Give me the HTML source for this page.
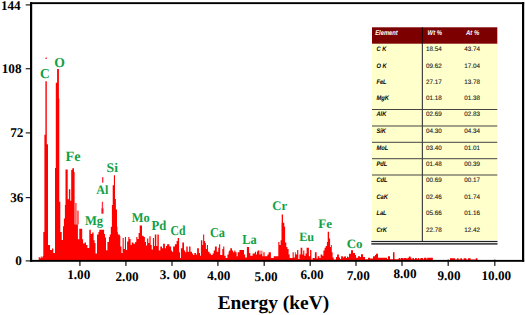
<!DOCTYPE html>
<html lang="en"><head><meta charset="utf-8"><title>EDS spectrum</title>
<style>
html,body{margin:0;padding:0;background:#fff;}
body{width:525px;height:315px;overflow:hidden;}
svg{display:block;}
text{text-rendering:geometricPrecision;}
.ax{font-family:"Liberation Serif",serif;font-weight:bold;font-size:13.2px;fill:#000;}
.el{font-family:"Liberation Serif",serif;font-weight:bold;fill:#12a043;}
.ttl{font-family:"Liberation Serif",serif;font-weight:bold;font-size:19.4px;fill:#000;}
.th{font-family:"Liberation Sans",sans-serif;font-weight:bold;font-style:italic;font-size:6.9px;fill:#fff;}
.tn{font-family:"Liberation Sans",sans-serif;font-weight:bold;font-style:italic;font-size:6.6px;fill:#000;}
.tv{font-family:"Liberation Sans",sans-serif;font-size:6.5px;fill:#1a1a1a;stroke:#1a1a1a;stroke-width:0.12px;}
</style></head><body>
<svg width="525" height="315" viewBox="0 0 525 315">
<rect width="525" height="315" fill="#fff"/>
<g fill="#222"><rect x="25.7" y="4.3" width="4.5" height="1.2"/><rect x="25.7" y="68.1" width="4.5" height="1.2"/><rect x="25.7" y="132.3" width="4.5" height="1.2"/><rect x="25.7" y="197.0" width="4.5" height="1.2"/><rect x="25.7" y="260.3" width="4.5" height="1.2"/><rect x="79.25" y="259.6" width="1.3" height="6.3"/><rect x="125.25" y="259.6" width="1.3" height="6.3"/><rect x="171.35" y="259.6" width="1.3" height="6.3"/><rect x="217.25" y="259.6" width="1.3" height="6.3"/><rect x="263.55" y="259.6" width="1.3" height="6.3"/><rect x="309.55" y="259.6" width="1.3" height="6.3"/><rect x="355.35" y="259.6" width="1.3" height="6.3"/><rect x="401.35" y="259.6" width="1.3" height="6.3"/><rect x="447.55" y="259.6" width="1.3" height="6.3"/><rect x="494.15" y="259.6" width="1.3" height="6.3"/></g>
<path d="M38.70,260.0L38.70,257.00L39.70,257.00L39.70,258.20L40.70,258.20L40.70,256.40L41.70,256.40L41.70,257.60L42.70,257.60L42.70,256.00L43.30,256.00L43.30,232.00L44.40,232.00L44.40,134.80L45.40,134.80L45.40,81.30L46.80,81.30L46.80,144.30L48.00,144.30L48.00,245.00L50.00,245.00L50.00,250.00L52.00,250.00L52.00,248.50L53.30,248.50L53.30,253.00L55.00,253.00L55.00,168.00L55.80,168.00L55.80,82.80L57.10,82.80L57.10,69.00L58.90,69.00L58.90,98.50L59.30,98.50L59.30,201.70L60.30,201.70L60.30,231.90L61.70,231.90L61.70,240.00L63.00,240.00L63.00,226.20L63.90,226.20L63.90,218.60L64.90,218.60L64.90,205.00L65.50,205.00L65.50,169.60L67.70,169.60L67.70,199.30L68.90,199.30L68.90,189.30L70.30,189.30L70.30,200.70L71.20,200.70L71.20,170.00L72.30,170.00L72.30,168.30L74.00,168.30L74.00,172.00L74.60,172.00L74.60,224.30L77.90,224.30L77.90,239.30L79.30,239.30L79.30,228.80L82.20,228.80L82.20,239.30L83.10,239.30L83.10,243.60L84.60,243.60L84.60,242.60L86.00,242.60L86.00,245.00L87.40,245.00L87.40,247.90L89.30,247.90L89.30,229.80L90.80,229.80L90.80,234.00L92.20,234.00L92.20,232.60L93.60,232.60L93.60,240.20L94.60,240.20L94.60,243.00L95.50,243.00L95.50,253.60L97.00,253.60L97.00,234.50L98.40,234.50L98.40,232.00L99.30,232.00L99.30,229.80L104.10,229.80L104.10,234.00L105.00,234.00L105.00,237.40L106.00,237.40L106.00,250.20L107.40,250.20L107.40,242.00L108.90,242.00L108.90,237.00L109.80,237.00L109.80,234.50L110.80,234.50L110.80,226.70L111.90,226.70L111.90,205.10L112.70,205.10L112.70,185.30L113.90,185.30L113.90,175.30L115.00,175.30L115.00,199.00L115.90,199.00L115.90,209.40L117.00,209.40L117.00,226.70L117.40,226.70L117.40,232.00L117.90,232.00L117.90,234.50L119.80,234.50L119.80,236.00L120.30,236.00L120.30,246.60L121.40,246.60L121.40,252.90L122.60,252.90L122.60,238.00L123.70,238.00L123.70,249.00L124.90,249.00L124.90,236.90L126.00,236.90L126.00,250.00L127.10,250.00L127.10,241.50L128.30,241.50L128.30,236.90L129.40,236.90L129.40,239.00L130.60,239.00L130.60,244.90L131.70,244.90L131.70,242.60L133.40,242.60L133.40,243.70L135.10,243.70L135.10,242.00L136.30,242.00L136.30,236.90L137.40,236.90L137.40,239.00L138.60,239.00L138.60,232.90L139.70,232.90L139.70,225.40L142.00,225.40L142.00,235.70L143.70,235.70L143.70,236.90L144.90,236.90L144.90,242.00L146.00,242.00L146.00,245.40L147.10,245.40L147.10,238.60L148.30,238.60L148.30,243.00L149.40,243.00L149.40,236.30L150.60,236.30L150.60,244.90L151.70,244.90L151.70,249.40L152.90,249.40L152.90,238.00L154.00,238.00L154.00,246.00L154.80,246.00L154.80,234.60L156.30,234.60L156.30,246.00L157.40,246.00L157.40,234.60L158.80,234.60L158.80,250.60L160.30,250.60L160.30,246.60L162.00,246.60L162.00,248.30L163.10,248.30L163.10,243.70L164.90,243.70L164.90,248.30L166.00,248.30L166.00,246.00L167.10,246.00L167.10,244.30L169.40,244.30L169.40,246.60L171.10,246.60L171.10,250.60L172.00,250.60L172.00,251.70L173.10,251.70L173.10,246.60L174.90,246.60L174.90,244.30L176.60,244.30L176.60,240.90L177.70,240.90L177.70,238.00L179.10,238.00L179.10,252.30L180.00,252.30L180.00,258.00L180.90,258.00L180.90,248.30L182.30,248.30L182.30,242.60L184.00,242.60L184.00,250.60L185.10,250.60L185.10,252.30L186.30,252.30L186.30,246.60L187.70,246.60L187.70,251.70L189.10,251.70L189.10,246.60L190.50,246.60L190.50,251.70L192.00,251.70L192.00,253.40L193.10,253.40L193.10,255.10L194.30,255.10L194.30,252.90L196.00,252.90L196.00,254.60L197.10,254.60L197.10,248.30L198.90,248.30L198.90,252.90L200.00,252.90L200.00,255.70L200.90,255.70L200.90,240.30L202.30,240.30L202.30,244.90L203.10,244.90L203.10,234.60L204.20,234.60L204.20,240.90L205.10,240.90L205.10,243.10L205.90,243.10L205.90,248.90L206.90,248.90L206.90,244.90L208.00,244.90L208.00,251.70L209.50,251.70L209.50,253.40L210.90,253.40L210.90,255.10L212.60,255.10L212.60,253.40L213.70,253.40L213.70,250.60L214.90,250.60L214.90,246.60L216.80,246.60L216.80,251.70L218.30,251.70L218.30,247.70L219.10,247.70L219.10,244.30L220.20,244.30L220.20,255.10L222.30,255.10L222.30,248.90L223.20,248.90L223.20,246.60L224.30,246.60L224.30,255.70L225.70,255.70L225.70,258.00L227.40,258.00L227.40,254.60L228.60,254.60L228.60,251.70L229.10,251.70L229.10,250.60L230.30,250.60L230.30,248.30L232.00,248.30L232.00,250.60L233.10,250.60L233.10,252.30L234.30,252.30L234.30,250.60L235.40,250.60L235.40,252.30L236.60,252.30L236.60,256.30L237.70,256.30L237.70,252.30L239.40,252.30L239.40,250.00L244.00,250.00L244.00,254.60L245.10,254.60L245.10,257.40L246.90,257.40L246.90,247.10L249.10,247.10L249.10,252.90L250.30,252.90L250.30,255.70L252.60,255.70L252.60,253.40L254.90,253.40L254.90,251.70L256.00,251.70L256.00,254.60L256.90,254.60L256.90,251.50L257.70,251.50L257.70,250.60L259.40,250.60L259.40,254.60L260.60,254.60L260.60,250.60L261.30,250.60L261.30,254.00L261.80,254.00L261.80,250.80L262.30,250.80L262.30,256.30L263.40,256.30L263.40,252.30L264.60,252.30L264.60,256.30L267.40,256.30L267.40,254.60L268.60,254.60L268.60,252.30L270.90,252.30L270.90,258.00L273.70,258.00L273.70,256.30L278.30,256.30L278.30,242.00L279.40,242.00L279.40,244.90L280.60,244.90L280.60,240.30L281.50,240.30L281.50,222.70L281.70,222.70L281.70,214.40L283.00,214.40L283.00,222.70L284.30,222.70L284.30,226.70L285.10,226.70L285.10,242.60L286.30,242.60L286.30,247.10L287.40,247.10L287.40,248.90L288.60,248.90L288.60,254.60L289.70,254.60L289.70,258.00L292.60,258.00L292.60,252.30L293.70,252.30L293.70,257.40L294.90,257.40L294.90,252.30L295.70,252.30L295.70,254.60L297.10,254.60L297.10,250.00L298.30,250.00L298.30,259.10L299.40,259.10L299.40,254.60L300.60,254.60L300.60,247.70L302.30,247.70L302.30,254.60L303.20,254.60L303.20,250.60L304.30,250.60L304.30,255.70L305.50,255.70L305.50,253.40L306.60,253.40L306.60,247.70L308.90,247.70L308.90,256.30L310.10,256.30L310.10,250.00L311.40,250.00L311.40,259.60L312.60,259.60L312.60,258.00L314.90,258.00L314.90,252.30L316.60,252.30L316.60,258.60L317.70,258.60L317.70,256.30L319.40,256.30L319.40,258.00L320.60,258.00L320.60,254.60L322.30,254.60L322.30,255.70L323.40,255.70L323.40,250.60L324.60,250.60L324.60,247.70L325.70,247.70L325.70,246.00L326.90,246.00L326.90,242.00L327.70,242.00L327.70,231.70L329.10,231.70L329.10,238.60L330.10,238.60L330.10,247.10L330.90,247.10L330.90,244.90L331.80,244.90L331.80,252.30L332.60,252.30L332.60,257.40L333.70,257.40L333.70,259.60L336.00,259.60L336.00,256.90L337.10,256.90L337.10,254.60L338.90,254.60L338.90,257.40L340.00,257.40L340.00,259.10L341.10,259.10L341.10,256.30L342.90,256.30L342.90,257.40L344.00,257.40L344.00,256.50L345.50,256.50L345.50,256.30L346.00,256.30L346.00,258.00L347.00,258.00L347.00,256.50L348.00,256.50L348.00,257.30L349.00,257.30L349.00,253.70L351.00,253.70L351.00,250.30L353.00,250.30L353.00,253.00L355.00,253.00L355.00,255.00L356.00,255.00L356.00,257.70L358.00,257.70L358.00,256.30L360.00,256.30L360.00,257.00L361.00,257.00L361.00,254.30L363.00,254.30L363.00,257.00L365.00,257.00L365.00,259.20L368.00,259.20L368.00,257.70L370.00,257.70L370.00,258.50L373.00,258.50L373.00,256.30L375.00,256.30L375.00,255.00L376.00,255.00L376.00,253.70L378.00,253.70L378.00,257.70L387.00,257.70L387.00,259.00L388.00,259.00L388.00,256.30L390.00,256.30L390.00,259.30L393.00,259.30L393.00,252.30L394.50,252.30L394.50,259.30L398.60,259.30L398.60,258.00L400.30,258.00L400.30,259.30L400.90,259.30L400.90,258.00L403.50,258.00L403.50,259.20L404.00,259.20L404.00,258.00L406.50,258.00L406.50,258.80L407.50,258.80L407.50,257.80L408.90,257.80L408.90,256.50L410.50,256.50L410.50,257.60L411.40,257.60L411.40,259.30L412.40,259.30L412.40,258.00L414.00,258.00L414.00,259.30L415.00,259.30L415.00,258.00L416.80,258.00L416.80,259.30L417.80,259.30L417.80,258.00L419.20,258.00L419.20,259.30L420.40,259.30L420.40,258.00L423.00,258.00L423.00,259.30L424.00,259.30L424.00,257.80L426.50,257.80L426.50,259.20L427.20,259.20L427.20,257.80L432.90,257.80L432.90,260.00L450.00,260.00L450.00,258.20L455.20,258.20L455.20,259.60L456.90,259.60L456.90,258.20L458.60,258.20L458.60,259.60L460.30,259.60L460.30,258.20L462.00,258.20L462.00,259.60L463.70,259.60L463.70,258.20L466.30,258.20L466.30,259.60L468.00,259.60L468.00,258.20L470.60,258.20L470.60,259.60L475.80,259.60L475.80,258.20L477.50,258.20L477.50,260.00L480.00,260.00L480,260.0Z" fill="#ff0000"/>
<g fill="#ff6464"><rect x="74.6" y="203" width="2.1" height="21.5"/><rect x="76.7" y="210.7" width="2.2" height="13.8"/></g>
<rect x="45.4" y="57.5" width="1.5" height="1.5" fill="#ff3048"/>
<g fill="#ff3044"><rect x="102" y="177.2" width="1.4" height="5.4"/><rect x="101.8" y="201.8" width="1.3" height="6.6"/><rect x="101.4" y="208.2" width="2.1" height="5.5" fill="#ff1020"/></g>
<g fill="#000"><rect x="30" y="2.2" width="494.2" height="1.9"/><rect x="30" y="2.2" width="2.2" height="259.5"/><rect x="522" y="2.2" width="2.2" height="259.5"/><rect x="30" y="259.9" width="494.2" height="1.9"/></g>
<text class="ax" x="20.7" y="9.9" text-anchor="end">144</text><text class="ax" x="21.5" y="73.4" text-anchor="end">108</text><text class="ax" x="23.4" y="136.9" text-anchor="end">72</text><text class="ax" x="23.4" y="201.7" text-anchor="end">36</text><text class="ax" x="21.8" y="265.0" text-anchor="end">0</text>
<text class="ax" x="78.75" y="279.4" text-anchor="middle">1.00</text><text class="ax" x="127.05" y="280.9" text-anchor="middle">2.00</text><text class="ax" x="173.0" y="278.9" text-anchor="middle">3. 00</text><text class="ax" x="218.8" y="280.4" text-anchor="middle">4.00</text><text class="ax" x="266.05" y="281.4" text-anchor="middle">5.00</text><text class="ax" x="312.05" y="278.9" text-anchor="middle">6.00</text><text class="ax" x="358.2" y="280.1" text-anchor="middle">7.00</text><text class="ax" x="404.95" y="278.4" text-anchor="middle">8.00</text><text class="ax" x="449.0" y="279.5" text-anchor="middle">9.00</text><text class="ax" x="496.3" y="280.2" text-anchor="middle">10.00</text>
<text class="ttl" x="273.4" y="308.6" text-anchor="middle">Energy (keV)</text>
<text class="el" font-size="13.7" transform="translate(39.89,77.8) scale(0.990,1)">C</text><text class="el" font-size="13.7" transform="translate(54.18,66.5) scale(0.998,1)">O</text><text class="el" font-size="14.3" transform="translate(65.41,160.7) scale(1.002,1)">Fe</text><text class="el" font-size="12.8" transform="translate(96.13,193.7) scale(0.947,1)">Al</text><text class="el" font-size="13.2" transform="translate(106.62,172.3) scale(1.038,1)">Si</text><text class="el" font-size="13.3" transform="translate(84.98,225.0) scale(0.947,1)">Mg</text><text class="el" font-size="13.2" transform="translate(131.74,221.5) scale(0.944,1)">Mo</text><text class="el" font-size="13.6" transform="translate(151.43,229.5) scale(0.930,1)">Pd</text><text class="el" font-size="13.6" transform="translate(170.58,234.5) scale(0.863,1)">Cd</text><text class="el" font-size="13.7" transform="translate(209.95,236.8) scale(0.901,1)">Ca</text><text class="el" font-size="13.7" transform="translate(242.34,244.1) scale(0.901,1)">La</text><text class="el" font-size="13.1" transform="translate(272.23,209.6) scale(0.975,1)">Cr</text><text class="el" font-size="12.8" transform="translate(299.14,240.9) scale(0.954,1)">Eu</text><text class="el" font-size="13.0" transform="translate(318.23,228.3) scale(1.004,1)">Fe</text><text class="el" font-size="12.9" transform="translate(346.72,247.6) scale(1.004,1)">Co</text>
<rect x="372.0" y="43.7" width="125.3" height="196.5" fill="#ffffcc"/>
<rect x="372.0" y="27.3" width="125.3" height="16.4" fill="#7d0000"/>
<g fill="#444"><rect x="372.0" y="109.0" width="125.3" height="1"/><rect x="372.0" y="125.5" width="125.3" height="1"/><rect x="372.0" y="141.8" width="125.3" height="1"/><rect x="372.0" y="158.2" width="125.3" height="1"/><rect x="372.0" y="174.5" width="125.3" height="1"/><rect x="421.8" y="43.7" width="1.2" height="197.3"/></g>
<rect x="421.8" y="27.3" width="1.2" height="16.4" fill="#2a0000"/>
<g fill="#222"><rect x="371.3" y="240.9" width="126.2" height="1.2"/><rect x="371.3" y="243.2" width="126.2" height="1.4"/></g>
<text class="th" transform="translate(375.2,35.1) scale(0.84,1)">Element</text><text class="th" transform="translate(427.6,35.1) scale(0.86,1)">Wt %</text><text class="th" transform="translate(466,35.1) scale(0.86,1)">At %</text>
<text class="tn" transform="translate(376.4,51.1) scale(0.87,1)">C K</text><text class="tv" transform="translate(426.1,51.1) scale(0.97,1)">18.54</text><text class="tv" transform="translate(464.3,51.1) scale(0.97,1)">43.74</text>
<text class="tn" transform="translate(376.4,67.5) scale(0.87,1)">O K</text><text class="tv" transform="translate(426.1,67.5) scale(0.97,1)">09.62</text><text class="tv" transform="translate(464.3,67.5) scale(0.97,1)">17.04</text>
<text class="tn" transform="translate(376.4,83.9) scale(0.87,1)">FeL</text><text class="tv" transform="translate(426.1,83.9) scale(0.97,1)">27.17</text><text class="tv" transform="translate(464.3,83.9) scale(0.97,1)">13.78</text>
<text class="tn" transform="translate(376.4,100.0) scale(0.87,1)">MgK</text><text class="tv" transform="translate(426.1,100.0) scale(0.97,1)">01.18</text><text class="tv" transform="translate(464.3,100.0) scale(0.97,1)">01.38</text>
<text class="tn" transform="translate(376.4,116.4) scale(0.87,1)">AlK</text><text class="tv" transform="translate(426.1,116.4) scale(0.97,1)">02.69</text><text class="tv" transform="translate(464.3,116.4) scale(0.97,1)">02.83</text>
<text class="tn" transform="translate(376.4,133.1) scale(0.87,1)">SiK</text><text class="tv" transform="translate(426.1,133.1) scale(0.97,1)">04.30</text><text class="tv" transform="translate(464.3,133.1) scale(0.97,1)">04.34</text>
<text class="tn" transform="translate(376.4,149.5) scale(0.87,1)">MoL</text><text class="tv" transform="translate(426.1,149.5) scale(0.97,1)">03.40</text><text class="tv" transform="translate(464.3,149.5) scale(0.97,1)">01.01</text>
<text class="tn" transform="translate(376.4,165.9) scale(0.87,1)">PdL</text><text class="tv" transform="translate(426.1,165.9) scale(0.97,1)">01.48</text><text class="tv" transform="translate(464.3,165.9) scale(0.97,1)">00.39</text>
<text class="tn" transform="translate(376.4,182.3) scale(0.87,1)">CdL</text><text class="tv" transform="translate(426.1,182.3) scale(0.97,1)">00.69</text><text class="tv" transform="translate(464.3,182.3) scale(0.97,1)">00.17</text>
<text class="tn" transform="translate(376.4,198.7) scale(0.87,1)">CaK</text><text class="tv" transform="translate(426.1,198.7) scale(0.97,1)">02.46</text><text class="tv" transform="translate(464.3,198.7) scale(0.97,1)">01.74</text>
<text class="tn" transform="translate(376.4,215.1) scale(0.87,1)">LaL</text><text class="tv" transform="translate(426.1,215.1) scale(0.97,1)">05.66</text><text class="tv" transform="translate(464.3,215.1) scale(0.97,1)">01.16</text>
<text class="tn" transform="translate(376.4,231.5) scale(0.87,1)">CrK</text><text class="tv" transform="translate(426.1,231.5) scale(0.97,1)">22.78</text><text class="tv" transform="translate(464.3,231.5) scale(0.97,1)">12.42</text>
</svg>
</body></html>
